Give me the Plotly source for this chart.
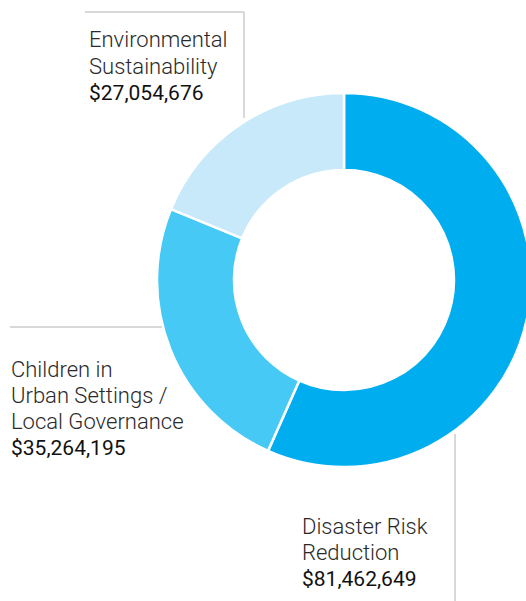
import plotly.graph_objects as go

# data
labels = ["Disaster Risk Reduction", "Children in Urban Settings / Local Governance",
          "Environmental Sustainability"]
values = [81462649, 35264195, 27054676]
colors = ["#00aeef", "#47c9f6", "#c7e9f9"]
label_lines = [["Disaster Risk", "Reduction"],
               ["Children in", "Urban Settings /", "Local Governance"],
               ["Environmental", "Sustainability"]]

# figure is a bit wider than the window so the ring runs off the right edge
W, H = 534, 601


def px(x):
    return x / W


def py(y):
    return 1 - y / H


cx, cy, R = 344, 280, 187

fig = go.Figure()
fig.add_trace(go.Pie(
    labels=labels,
    values=values,
    sort=False,
    direction='clockwise',
    rotation=0,
    hole=110 / R,
    marker=dict(colors=colors, line=dict(color='white', width=2.5)),
    textinfo='none',
    hoverinfo='label+value',
    showlegend=False,
    domain=dict(x=[px(cx - R), px(cx + R)], y=[py(cy + R), py(cy - R)]),
))

# label blocks: left x, centre y of first line
positions = [(300, 526), (9, 369), (87, 40)]
step = 26.3
annotations = []
for lines, v, (x0, y0) in zip(label_lines, values, positions):
    for i, t in enumerate(lines):
        annotations.append(dict(
            x=px(x0), y=py(y0 + i * step), xref='paper', yref='paper',
            xanchor='left', yanchor='middle', showarrow=False, text=t,
            font=dict(family='Roboto', size=22, color='#2a2a2a', weight=300)))
    annotations.append(dict(
        x=px(x0), y=py(y0 + len(lines) * step), xref='paper', yref='paper',
        xanchor='left', yanchor='middle', showarrow=False, text=f"${v:,}",
        font=dict(family='Roboto', size=21, color='#111111', weight=400)))

line_style = dict(color='#b3b3b3', width=1)
shapes = [
    # environmental
    dict(type='line', xref='paper', yref='paper', x0=px(85), x1=px(244),
         y0=py(12), y1=py(12), line=line_style),
    dict(type='line', xref='paper', yref='paper', x0=px(244), x1=px(244),
         y0=py(12), y1=py(118), line=line_style),
    # children
    dict(type='line', xref='paper', yref='paper', x0=px(10), x1=px(162),
         y0=py(327), y1=py(327), line=line_style),
    # disaster
    dict(type='line', xref='paper', yref='paper', x0=px(455), x1=px(455),
         y0=py(434), y1=py(601), line=line_style),
]

fig.update_layout(
    width=W, height=H,
    margin=dict(l=0, r=0, t=0, b=0),
    paper_bgcolor='white',
    annotations=annotations,
    shapes=shapes,
)

fig.write_html("out.html", config={'displayModeBar': False},
               post_script="document.body.style.margin='0';"
                           "document.body.style.overflow='hidden';")
